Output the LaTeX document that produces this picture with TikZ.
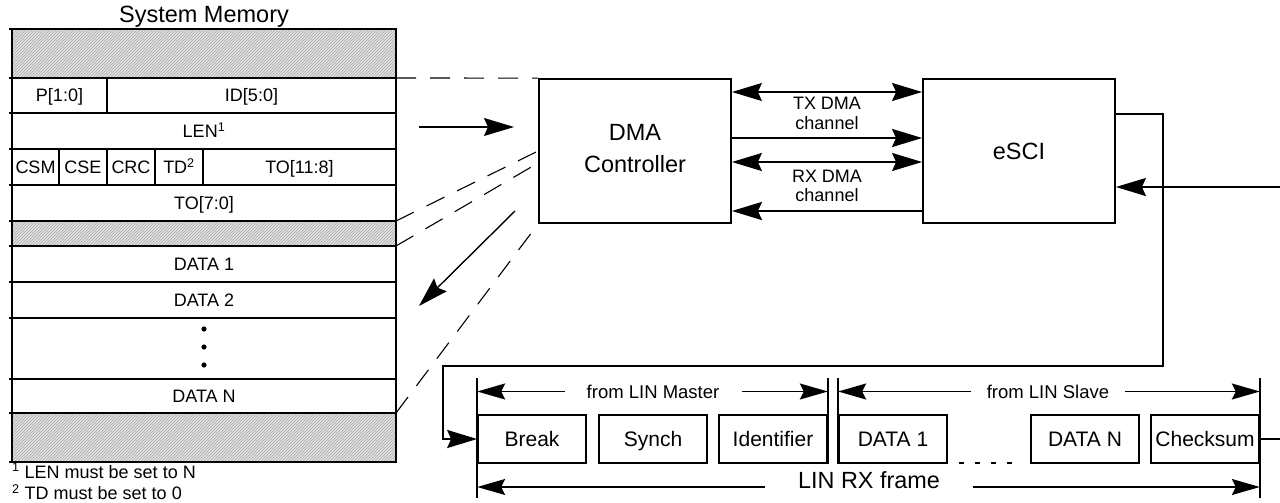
\documentclass[tikz,border=0pt]{standalone}
\usepackage{fontspec}
\setmainfont{Liberation Sans}
\usetikzlibrary{arrows.meta,patterns}
\tikzset{
  bigtip/.tip={Stealth[length=30pt,width=18pt,inset=4pt]},
  midtip/.tip={Stealth[length=28pt,width=16pt,inset=4pt]},
  memline/.style={line width=2.6pt},
  divline/.style={line width=1.7pt},
  hatch/.style={fill=gray!22,postaction={pattern=north east lines,pattern color=gray!70}},
  memtxt/.style={font=\fontsize{18}{20}\selectfont,inner sep=0pt,text height=12.9pt,text depth=0pt},
  ttl/.style={font=\fontsize{23.5}{26}\selectfont,inner sep=0pt},
  foot/.style={font=\fontsize{18}{20}\selectfont,inner sep=0pt},
  blk/.style={draw,line width=1.8pt,minimum width=192pt,minimum height=144pt,align=center,font=\fontsize{23.5}{31.7}\selectfont},
  chl/.style={align=center,font=\fontsize{18}{19.5}\selectfont,inner sep=0pt},
  dashln/.style={line width=1.1pt,dash pattern=on 20pt off 14pt},
  thinarr/.style={line width=1.4pt,-{bigtip}},
  dbl/.style={line width=1.5pt,{bigtip}-{bigtip}},
  thkarr/.style={line width=2.6pt,-{bigtip}},
  wire/.style={line width=2pt},
  fbox/.style={draw,line width=1.7pt,minimum width=108pt,minimum height=48pt,inner sep=0pt,font=\fontsize{21}{24}\selectfont,text height=15pt,text depth=0pt},
  fbar/.style={line width=2pt},
  flbl/.style={font=\fontsize{18.5}{20}\selectfont,inner ysep=0pt,text height=13.2pt,text depth=0pt},
  farr/.style={line width=1.6pt,-{midtip}},
  dotln/.style={line width=2.5pt,dash pattern=on 5pt off 11pt},
}
\begin{document}
\begin{tikzpicture}[x=1pt,y=-1pt]
\useasboundingbox (0,0) rectangle (1280,503);
% ---------------- system memory
\foreach \a/\b in {29/78,221/246,413/462}
  \path[hatch] (12,\a) rectangle (396,\b);
\foreach \y in {29,78,113,149,185,221,246,282,318,379,413,462}
  \draw[memline] (9,\y) -- (397,\y);
\draw[memline] (12,28) -- (12,463);
\draw[memline] (396,28) -- (396,463);
\draw[divline] (107,78) -- (107,113);
\foreach \x in {59,107,155,203} \draw[divline] (\x,149) -- (\x,185);
\node[ttl,anchor=base] (title) at (204,23) {System Memory};
\node[memtxt] (pfield) at (59.5,95.5) {P[1:0]};
\node[memtxt] (idfield) at (251.5,95.5) {ID[5:0]};
\node[memtxt] (len) at (204,131) {LEN\textsuperscript{1}};
\node[memtxt] (csm) at (35.5,167) {CSM};
\node[memtxt] (cse) at (83,167) {CSE};
\node[memtxt] (crc) at (131,167) {CRC};
\node[memtxt] (td) at (179,167) {TD\textsuperscript{2}};
\node[memtxt] (tohi) at (299.5,167) {TO[11:8]};
\node[memtxt] (tolo) at (204,203) {TO[7:0]};
\node[memtxt] (md1) at (204,264) {DATA 1};
\node[memtxt] (md2) at (204,300) {DATA 2};
\node[memtxt] (mdn) at (204,396) {DATA N};
\foreach \y in {329,347,365} \fill (204,\y) circle (2.6pt);
\node[foot,anchor=base west] (fn1) at (12,478) {\textsuperscript{1} LEN must be set to N};
\node[foot,anchor=base west] (fn2) at (12,499.5) {\textsuperscript{2} TD must be set to 0};
\coordinate (mA) at (396,78);
\coordinate (mB) at (396,221);
\coordinate (mC) at (396,246);
\coordinate (mD) at (396,413);
% ---------------- blocks
\node[blk] (dma) at (635,151) {DMA\\Controller\rule[-5pt]{0pt}{5pt}};
\node[blk] (esci) at (1019,151) {eSCI};
% dashed projections
\draw[dashln] (mA) -- (dma.north west);
\draw[dashln] (mB) -- (dma.west);
\draw[dashln] (mC) -- ([yshift=-12pt]dma.west);
\draw[dashln] (mD) -- (dma.south west);
% solid arrows memory <-> DMA
\coordinate (inS) at (419,127);
\coordinate (inE) at (514,127);
\draw[thinarr] (inS) -- (inE);
\coordinate (outS) at (515,211);
\coordinate (outE) at (419,306);
\draw[thinarr] (outS) -- (outE);
% DMA <-> eSCI
\draw[dbl] (dma.east |- 0,92) -- (esci.west |- 0,92);
\draw[thkarr] (dma.east |- 0,138) -- (esci.west |- 0,138);
\draw[dbl] (dma.east |- 0,162) -- (esci.west |- 0,162);
\draw[thkarr] (esci.west |- 0,211) -- (dma.east |- 0,211);
\node[chl] (txl) at (827,113.5) {TX DMA\\channel};
\node[chl] (rxl) at (827,186) {RX DMA\\channel};
% ---------------- LIN frame
\node[fbox] (brk) at (532,439) {Break};
\node[fbox] (syn) at (653,439) {Synch};
\node[fbox] (idf) at (773,439) {Identifier};
\node[fbox] (fd1) at (893,439) {DATA 1};
\node[fbox] (fdn) at (1085,439) {DATA N};
\node[fbox] (chk) at (1205,439) {Checksum};
\draw[fbar] (brk.west |- 0,378) -- (brk.west |- 0,498);
\draw[fbar] (idf.east |- 0,378) -- (idf.south east);
\draw[fbar] (fd1.west |- 0,378) -- (fd1.south west);
\draw[fbar] (chk.east |- 0,378) -- (chk.east |- 0,498);
\node[flbl,inner xsep=22pt] (mst) at (653,391.5) {from LIN Master};
\draw[farr] (mst.west) -- (brk.west |- mst.west);
\draw[farr] (mst.east) -- (idf.east |- mst.east);
\node[flbl,inner xsep=16pt] (slv) at (1048,391.5) {from LIN Slave};
\draw[farr] (slv.west) -- (fd1.west |- slv.west);
\draw[farr] (slv.east) -- (chk.east |- slv.east);
\node[font=\fontsize{23.4}{26}\selectfont,inner xsep=33pt,inner ysep=0pt,anchor=base] (rxf) at (869,488) {LIN RX frame};
\draw[farr] ([yshift=1pt]rxf.base west) -- (brk.west |- 0,487);
\draw[farr] ([yshift=1pt]rxf.base east) -- (chk.east |- 0,487);
\draw[dotln] ([xshift=11pt,yshift=1pt]fd1.south east) -- ([xshift=-11pt,yshift=1pt]fdn.south west);
% ---------------- eSCI loop and pins
\coordinate (lpA) at (1163,366);
\coordinate (lpB) at (443,439);
\draw[wire,-{bigtip}] (esci.east |- 0,114) -| (lpA) -| (lpB) -- (brk.west);
\coordinate (inR) at (1280,187);
\draw[wire,-{bigtip}] (inR) -- (esci.east |- inR);
\coordinate (outR) at (1280,439);
\draw[wire] (chk.east) -- (outR);
\end{tikzpicture}
\end{document}
